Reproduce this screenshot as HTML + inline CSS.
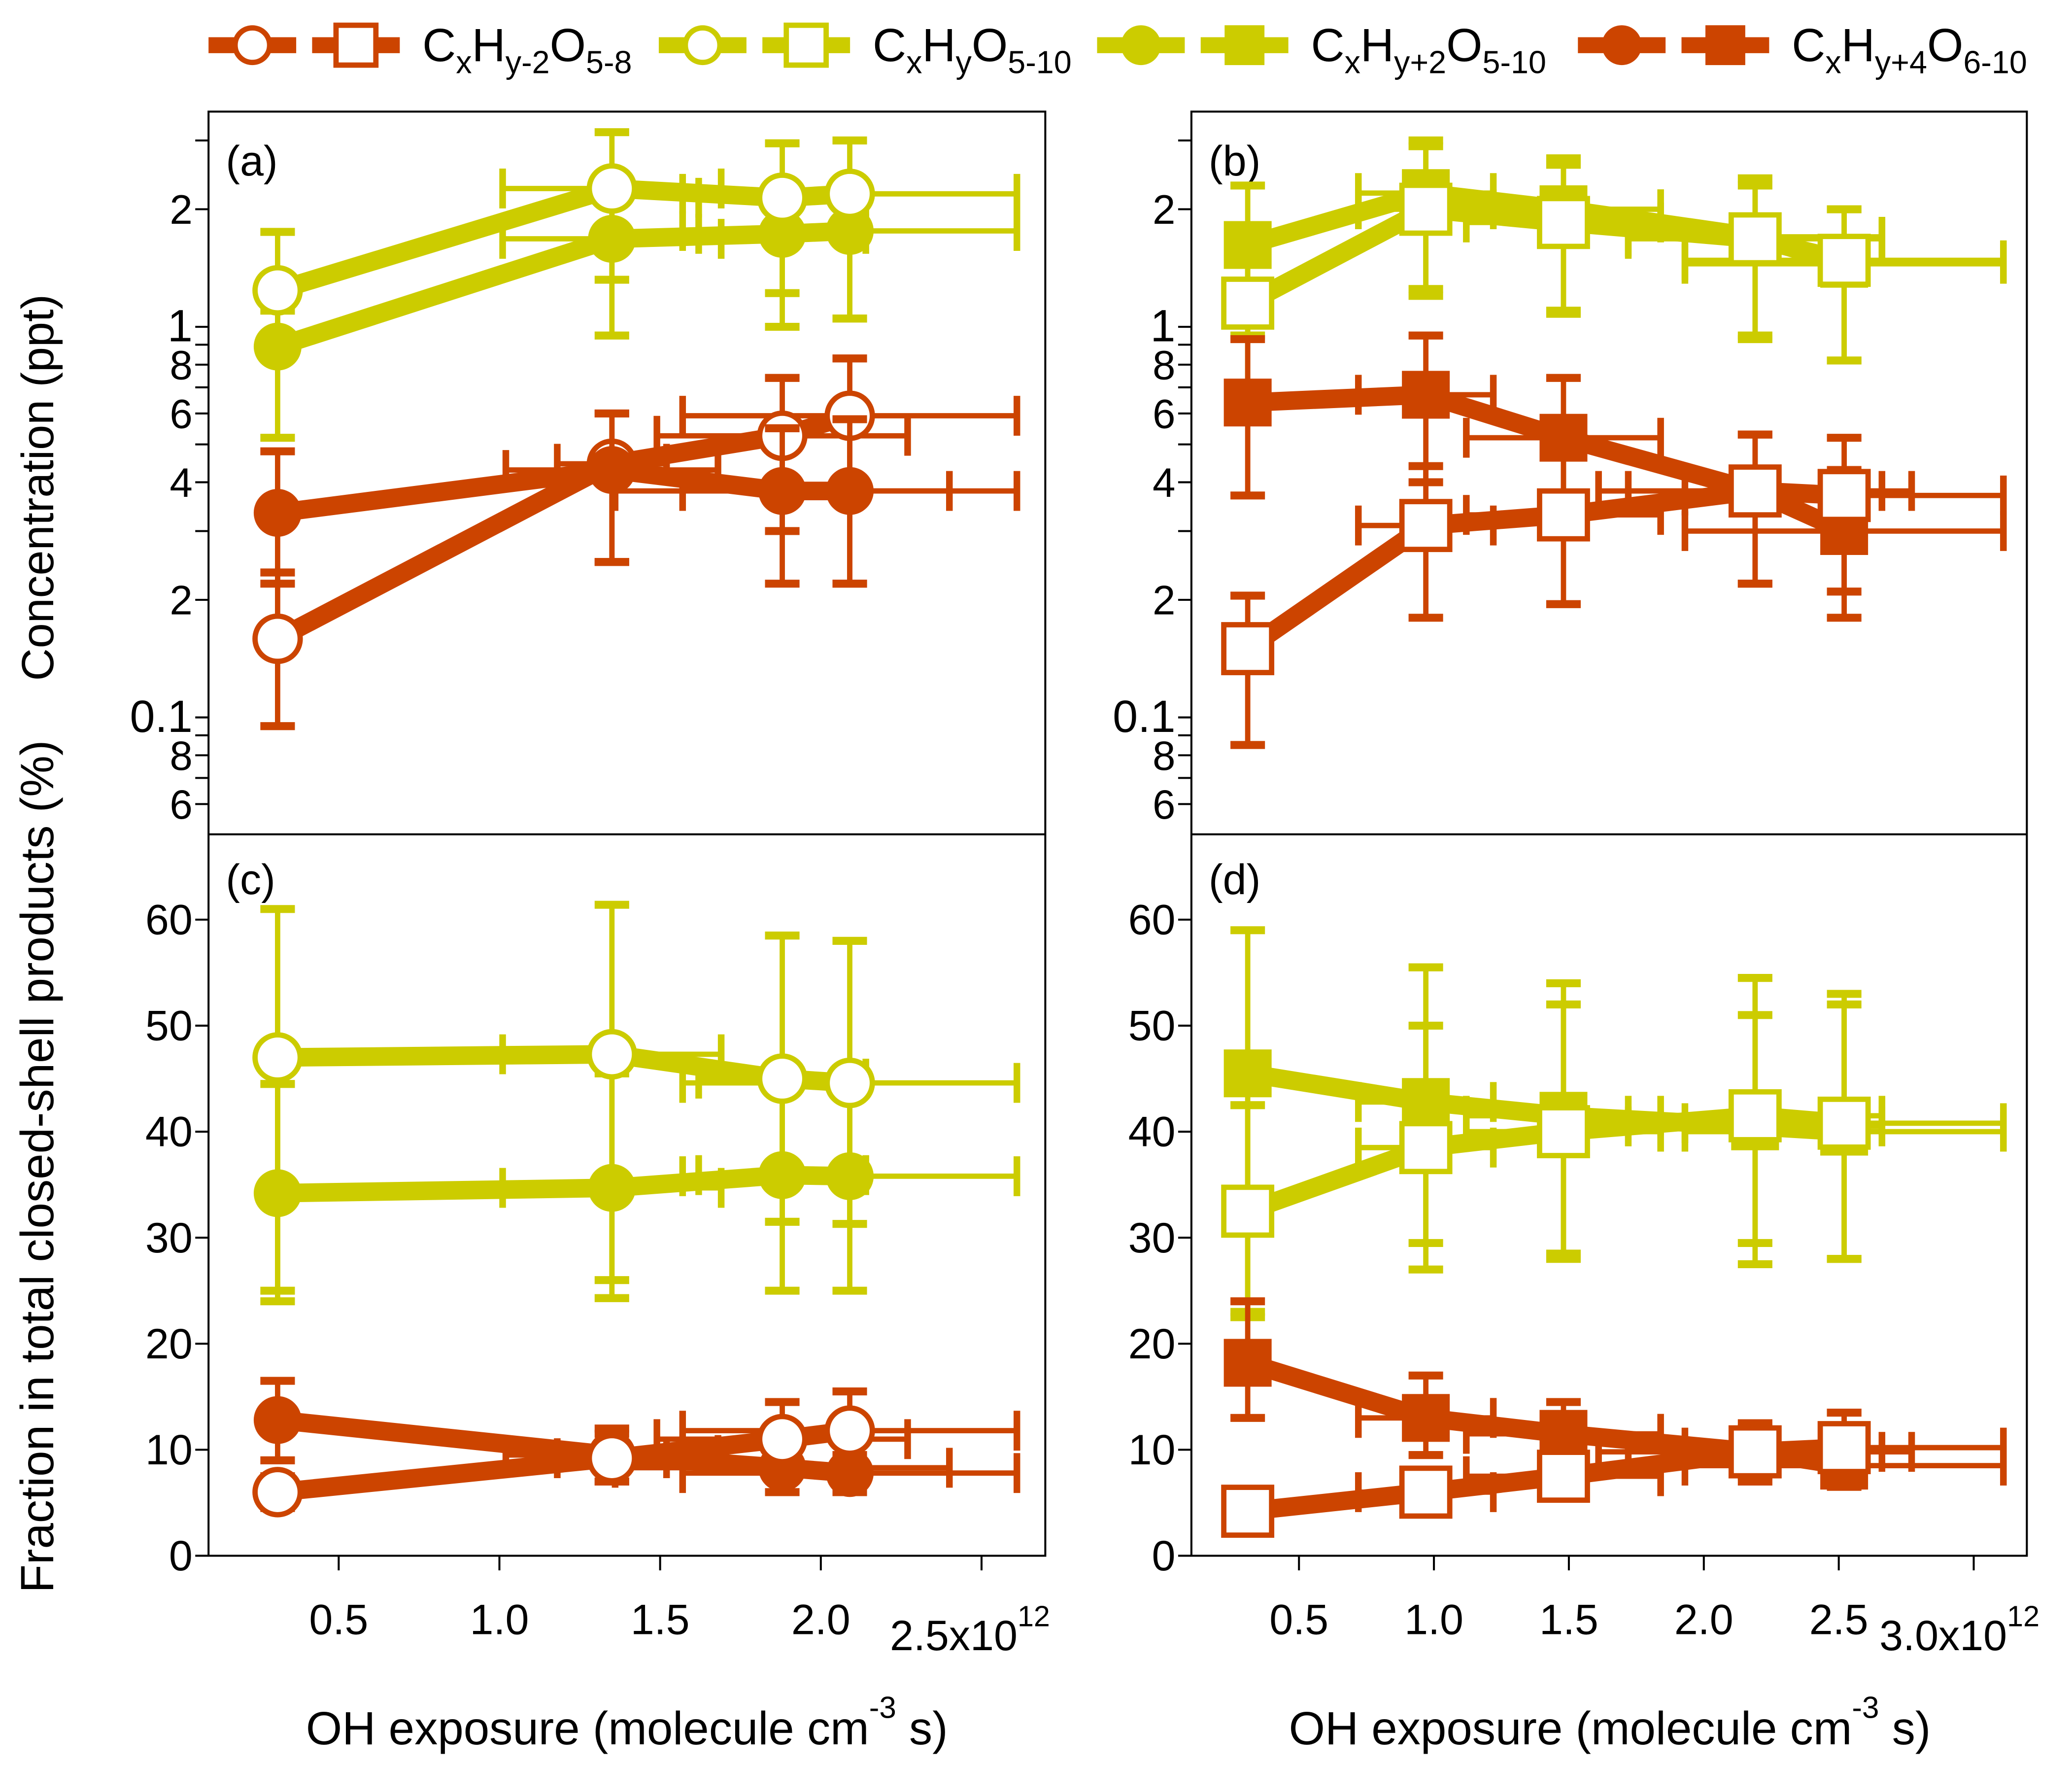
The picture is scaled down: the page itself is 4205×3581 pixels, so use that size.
<!DOCTYPE html>
<html><head><meta charset="utf-8"><style>
html,body{margin:0;padding:0;background:#fff;}
svg{display:block;font-family:"Liberation Sans",Arial,sans-serif;}
</style></head><body>
<svg id="chart" width="4205" height="3581" viewBox="0 0 1560 1328.5" preserveAspectRatio="none" xmlns="http://www.w3.org/2000/svg">
<g id="legend"></g>
<g id="frames"></g>
<g id="axes"></g>
<g id="marks"></g>
<text x="40" y="367" font-size="34" text-anchor="middle" transform="rotate(-90 40 367)">Concentration (ppt)</text>
<text x="40" y="878" font-size="35" text-anchor="middle" transform="rotate(-90 40 878)">Fraction in total closed-shell products (%)</text>
<text x="472" y="1313" font-size="35" text-anchor="middle">OH exposure (molecule cm<tspan dy="-20" font-size="23">-3</tspan><tspan dy="20"> s)</tspan></text>
<text x="1212" y="1313" font-size="35" text-anchor="middle">OH exposure (molecule cm<tspan dy="-20" font-size="23">-3</tspan><tspan dy="20"> s)</tspan></text>
</svg>
<script>
const OR = '#CC4400', YE = '#CCCC00';
// ---- data arrays ----
const xA = [0.31, 1.35, 1.88, 2.09];
const xB = [0.31, 0.97, 1.48, 2.19, 2.52];
// panel a (ppt)
const aOpenOr = [0.159, 0.446, 0.526, 0.592];
const aOpenOrLo = [0.095, 0.25, 0.30, 0.22];
const aOpenOrHi = [0.235, 0.60, 0.74, 0.83];
const aOpenOrXe = [0.04, 0.17, 0.39, 0.52];
const aFillOr = [0.334, 0.43, 0.38, 0.38];
const aFillOrLo = [0.22, 0.25, 0.22, 0.22];
const aFillOrHi = [0.48, 0.60, 0.55, 0.58];
const aFillOrXe = [0.04, 0.33, 0.52, 0.52];
const aOpenYe = [1.24, 2.26, 2.14, 2.19];
const aOpenYeLo = [0.95, 1.32, 1.22, 1.05];
const aOpenYeHi = [1.75, 3.15, 2.95, 3.0];
const aOpenYeXe = [0.04, 0.34, 0.26, 0.52];
const aFillYe = [0.89, 1.68, 1.73, 1.76];
const aFillYeLo = [0.52, 0.95, 1.0, 1.05];
const aFillYeHi = [1.1, 2.3, 2.1, 2.1];
const aFillYeXe = [0.04, 0.34, 0.26, 0.52];
// panel b (ppt)
const bOpenOr = [0.15, 0.31, 0.33, 0.38, 0.37];
const bOpenOrLo = [0.085, 0.18, 0.195, 0.22, 0.18];
const bOpenOrHi = [0.205, 0.44, 0.52, 0.53, 0.52];
const bOpenOrXe = [0.04, 0.25, 0.36, 0.47, 0.59];
const bFillOr = [0.64, 0.67, 0.52, 0.38, 0.30];
const bFillOrLo = [0.37, 0.40, 0.33, 0.22, 0.21];
const bFillOrHi = [0.93, 0.95, 0.74, 0.53, 0.43];
const bFillOrXe = [0.04, 0.25, 0.36, 0.58, 0.59];
const bOpenYe = [1.15, 2.0, 1.85, 1.68, 1.48];
const bOpenYeLo = [0.65, 1.2, 1.1, 0.95, 0.82];
const bOpenYeHi = [1.6, 2.9, 2.6, 2.3, 2.0];
const bOpenYeXe = [0.04, 0.25, 0.36, 0.47, 0.59];
const bFillYe = [1.62, 2.2, 2.0, 1.7, 1.45];
const bFillYeLo = [0.95, 1.25, 1.08, 0.93, 0.82];
const bFillYeHi = [2.3, 3.0, 2.7, 2.4, 2.0];
const bFillYeXe = [0.04, 0.25, 0.36, 0.47, 0.59];
// panel c (%)
const cOpenYe = [47, 47.3, 45, 44.6];
const cOpenYeLo = [24, 24.3, 25, 25];
const cOpenYeHi = [61, 61.4, 58.5, 58];
const cFillYe = [34.2, 34.7, 35.9, 35.8];
const cFillYeLo = [25, 26, 31.5, 31.3];
const cFillYeHi = [44.5, 45.5, 45.5, 45];
const cOpenOr = [6, 9.2, 11, 11.8];
const cOpenOrLo = [4.5, 7, 8.5, 9.5];
const cOpenOrHi = [7.5, 11.5, 14.5, 15.5];
const cFillOr = [12.8, 9.5, 8.3, 7.8];
const cFillOrLo = [9, 7, 6, 6];
const cFillOrHi = [16.5, 12, 11, 11];
// panel d (%)
const dFillYe = [45.5, 42.8, 41.5, 40.5, 40.0];
const dFillYeLo = [22.5, 29.5, 28.5, 27.5, 28];
const dFillYeHi = [59, 55.5, 54, 54.5, 53];
const dOpenYe = [32.5, 38.5, 40, 41.5, 40.8];
const dOpenYeLo = [23, 27, 28, 29.5, 28];
const dOpenYeHi = [42.5, 50, 52, 51, 52];
const dFillOr = [18.2, 13, 11.5, 9.8, 8.5];
const dFillOrLo = [13, 9.5, 8.5, 7, 6.5];
const dFillOrHi = [24, 17, 14.5, 12.5, 13.5];
const dOpenOr = [4.2, 6, 7.5, 9.8, 10.2];
const dOpenOrLo = [2.5, 4.5, 5.5, 7.5, 8];
const dOpenOrHi = [6, 8, 9.5, 12, 13.5];

const logTicksA = [3,2,1,0.9,0.8,0.7,0.6,0.5,0.4,0.3,0.2,0.1,0.09,0.08,0.07,0.06];
const logLabels = {2:'2',1:'1',0.8:'8',0.6:'6',0.4:'4',0.2:'2',0.1:'0.1',0.08:'8',0.06:'6'};
const linTicks = [0,10,20,30,40,50,60];
const xTicksA = [0.5,1.0,1.5,2.0,2.5];
const xTicksB = [0.5,1.0,1.5,2.0,2.5,3.0];

// ---- scales ----
const scXA = v => 255 + 242*(v-0.5);
const scXB = v => 978 + 203.2*(v-0.5);
const scYlog = v => 246 - 294*Math.log10(v);
const scYlin = v => 1171 - 7.98*v;

const NS = 'http://www.w3.org/2000/svg';
function mk(tag, attrs, parent){ const e=document.createElementNS(NS,tag); for(const k in attrs) e.setAttribute(k,attrs[k]); parent.appendChild(e); return e; }

const fr = document.getElementById('frames');
[[157,84,630,1087],[897,84,629,1087]].forEach((r,i)=>{
  const e = mk('rect',{x:r[0],y:r[1],width:r[2],height:r[3],fill:'none',stroke:'#000','stroke-width':1.5},fr);
  
  
  const l = mk('line',{x1:r[0],x2:r[0]+r[2],y1:628,y2:628,stroke:'#000','stroke-width':1.5},fr);
  
  
});
[['(a)',170,132],['(b)',910,132],['(c)',170,673],['(d)',910,673]].forEach(p=>{
  const t = mk('text',{x:p[1],y:p[2],'font-size':32},fr); t.textContent=p[0];
  
  
});

const ax = document.getElementById('axes');
[157,897].forEach(x0=>{
  logTicksA.forEach(v=>{
    const y = scYlog(v);
    const l = mk('line',{x1:x0-10,x2:x0,y1:y,y2:y,stroke:'#000','stroke-width':1.5},ax);
    
    
    if(logLabels[v]){
      const t = mk('text',{x:x0-12,y:y+11,'font-size':31,'text-anchor':'end'},ax); t.textContent=logLabels[v];
      if(v===1||v===0.1) t.setAttribute('font-size',34);
      
      
    }
  });
  linTicks.forEach(v=>{
    const y = scYlin(v);
    const l = mk('line',{x1:x0-10,x2:x0,y1:y,y2:y,stroke:'#000','stroke-width':1.5},ax);
    
    
    const t = mk('text',{x:x0-12,y:y+11,'font-size':32,'text-anchor':'end'},ax); t.textContent=v;
    
    
  });
});
function xAxis(ticks, sc, lastLbl, lastX){
  ticks.forEach((v,i)=>{
    const x = sc(v);
    const l = mk('line',{x1:x,x2:x,y1:1171,y2:1182,stroke:'#000','stroke-width':1.5},ax);
    
    
    if(i<ticks.length-1){
      const t = mk('text',{x:x,y:1230,'font-size':32,'text-anchor':'middle'},ax); t.textContent=v.toFixed(1);
      
      
    }
  });
  const t = mk('text',{x:lastX,y:1242,'font-size':32,'text-anchor':'start'},ax);
  t.innerHTML = lastLbl+'x10<tspan dy="-18" font-size="22">12</tspan>';
  
  
}
xAxis(xTicksA, scXA, '2.5', 670);
xAxis(xTicksB, scXB, '3.0', 1415);

const mg = document.getElementById('marks');
function series(name, xs, ys, lo, hi, xe, sx, sy, color, shape, filled){
  const g = mk('g',{},mg);
  
  
  xs.forEach((x,i)=>{
    const px=sx(x), py=sy(ys[i]);
    const yl=sy(lo[i]), yh=sy(hi[i]);
    mk('line',{x1:px,x2:px,y1:yl,y2:yh,stroke:color,'stroke-width':4},g);
    mk('line',{x1:px-13,x2:px+13,y1:yl,y2:yl,stroke:color,'stroke-width':6},g);
    mk('line',{x1:px-13,x2:px+13,y1:yh,y2:yh,stroke:color,'stroke-width':6},g);
    if(xe && xe[i]>0.05){
      const xl=sx(x-xe[i]), xh=sx(x+xe[i]);
      mk('line',{x1:xl,x2:xh,y1:py,y2:py,stroke:color,'stroke-width':4},g);
      mk('line',{x1:xl,x2:xl,y1:py-15,y2:py+15,stroke:color,'stroke-width':5},g);
      mk('line',{x1:xh,x2:xh,y1:py-15,y2:py+15,stroke:color,'stroke-width':5},g);
    }
  });
  const pts = xs.map((x,i)=>sx(x)+','+sy(ys[i])).join(' ');
  const pl = mk('polyline',{points:pts,fill:'none',stroke:color,'stroke-width':14,'stroke-linejoin':'round'},g);
  
  
  xs.forEach((x,i)=>{
    const px=sx(x), py=sy(ys[i]);
    let m;
    if(shape==='c') m = mk('circle',{cx:px,cy:py,r:filled?18:17,fill:filled?color:'#fff',stroke:color,'stroke-width':filled?0:4},g);
    else m = mk('rect',{x:px-18,y:py-18,width:36,height:36,fill:filled?color:'#fff',stroke:color,'stroke-width':filled?0:4},g);
    
    
  });
}
series('a-CxHy-2-open-circle', xA, aOpenOr, aOpenOrLo, aOpenOrHi, aOpenOrXe, scXA, scYlog, OR, 'c', false);
series('a-CxHy+4-filled-circle', xA, aFillOr, aFillOrLo, aFillOrHi, aFillOrXe, scXA, scYlog, OR, 'c', true);
series('a-CxHy+2-filled-circle', xA, aFillYe, aFillYeLo, aFillYeHi, aFillYeXe, scXA, scYlog, YE, 'c', true);
series('a-CxHy-open-circle', xA, aOpenYe, aOpenYeLo, aOpenYeHi, aOpenYeXe, scXA, scYlog, YE, 'c', false);
series('b-CxHy+2-filled-square', xB, bFillYe, bFillYeLo, bFillYeHi, bFillYeXe, scXB, scYlog, YE, 's', true);
series('b-CxHy-open-square', xB, bOpenYe, bOpenYeLo, bOpenYeHi, bOpenYeXe, scXB, scYlog, YE, 's', false);
series('b-CxHy+4-filled-square', xB, bFillOr, bFillOrLo, bFillOrHi, bFillOrXe, scXB, scYlog, OR, 's', true);
series('b-CxHy-2-open-square', xB, bOpenOr, bOpenOrLo, bOpenOrHi, bOpenOrXe, scXB, scYlog, OR, 's', false);
series('c-CxHy+2-filled-circle', xA, cFillYe, cFillYeLo, cFillYeHi, aFillYeXe, scXA, scYlin, YE, 'c', true);
series('c-CxHy-open-circle', xA, cOpenYe, cOpenYeLo, cOpenYeHi, aOpenYeXe, scXA, scYlin, YE, 'c', false);
series('c-CxHy+4-filled-circle', xA, cFillOr, cFillOrLo, cFillOrHi, aFillOrXe, scXA, scYlin, OR, 'c', true);
series('c-CxHy-2-open-circle', xA, cOpenOr, cOpenOrLo, cOpenOrHi, aOpenOrXe, scXA, scYlin, OR, 'c', false);
series('d-CxHy+2-filled-square', xB, dFillYe, dFillYeLo, dFillYeHi, bFillYeXe, scXB, scYlin, YE, 's', true);
series('d-CxHy-open-square', xB, dOpenYe, dOpenYeLo, dOpenYeHi, bOpenYeXe, scXB, scYlin, YE, 's', false);
series('d-CxHy+4-filled-square', xB, dFillOr, dFillOrLo, dFillOrHi, bFillOrXe, scXB, scYlin, OR, 's', true);
series('d-CxHy-2-open-square', xB, dOpenOr, dOpenOrLo, dOpenOrHi, bOpenOrXe, scXB, scYlin, OR, 's', false);

const lg = document.getElementById('legend');
const sub = s => '<tspan dy="9" font-size="24">'+s+'</tspan>';
const legItems = [
  [157, OR, false, 'C'+sub('x')+'<tspan dy="-9">H</tspan>'+sub('y-2')+'<tspan dy="-9">O</tspan>'+sub('5-8')],
  [496, YE, false, 'C'+sub('x')+'<tspan dy="-9">H</tspan>'+sub('y')+'<tspan dy="-9">O</tspan>'+sub('5-10')],
  [826, YE, true, 'C'+sub('x')+'<tspan dy="-9">H</tspan>'+sub('y+2')+'<tspan dy="-9">O</tspan>'+sub('5-10')],
  [1188, OR, true, 'C'+sub('x')+'<tspan dy="-9">H</tspan>'+sub('y+4')+'<tspan dy="-9">O</tspan>'+sub('6-10')]
];
legItems.forEach(it=>{
  const [x0,c,f,label]=it;
  const g = mk('g',{},lg);
  
  
  const y=34;
  mk('line',{x1:x0,x2:x0+66,y1:y,y2:y,stroke:c,'stroke-width':12},g);
  mk('circle',{cx:x0+33,cy:y,r:f?15:13,fill:f?c:'#fff',stroke:c,'stroke-width':f?0:4},g);
  mk('line',{x1:x0+78,x2:x0+144,y1:y,y2:y,stroke:c,'stroke-width':12},g);
  mk('rect',{x:x0+96,y:y-15,width:30,height:30,fill:f?c:'#fff',stroke:c,'stroke-width':f?0:4},g);
  const t = mk('text',{x:x0+161,y:y+12,'font-size':35},g);
  t.innerHTML = label;
});
</script>
</body></html>
